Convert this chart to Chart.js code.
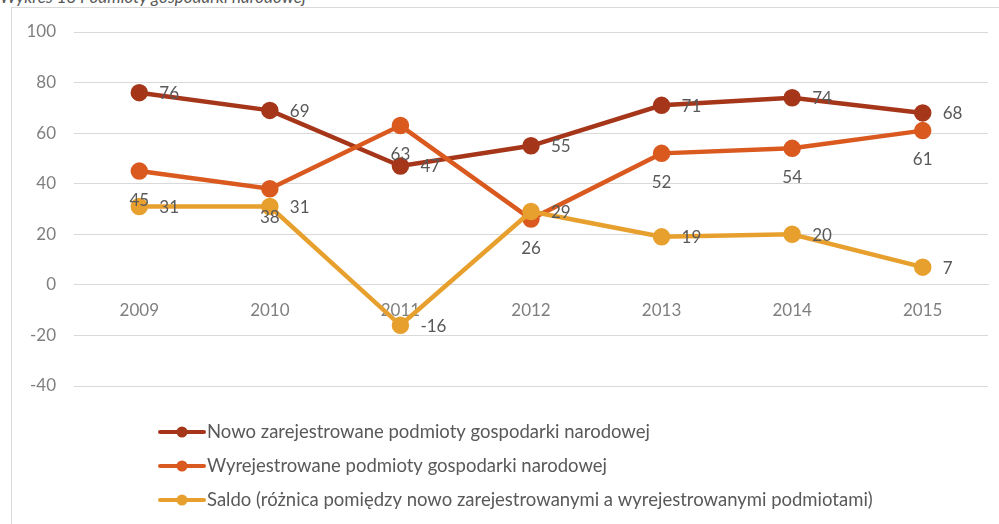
<!DOCTYPE html>
<html lang="pl">
<head>
<meta charset="utf-8">
<script src="https://cdn.jsdelivr.net/npm/chart.js@4/dist/chart.umd.min.js"></script>
<style>
  html, body { margin: 0; padding: 0; background: #fff; }
  body { width: 999px; height: 524px; position: relative; overflow: hidden; font-family: Lato, "Open Sans", sans-serif; }
  .title { position: absolute; left: 0; top: -14px; font-style: italic; font-size: 17px; color: #595959; white-space: nowrap; }
  .frame { position: absolute; left: 11px; top: 7px; width: 1000px; height: 530px; border: 1px solid #d9d9d9; }
  canvas { position: absolute; left: 0; top: 0; }
</style>
</head>
<body>
<div class="title">Wykres 18 Podmioty gospodarki narodowej</div>
<div class="frame"></div>
<canvas id="chart" width="999" height="524"></canvas>
<script>
  // Data
  const years = ["2009", "2010", "2011", "2012", "2013", "2014", "2015"];
  const registered = [76, 69, 47, 55, 71, 74, 68];
  const deregistered = [45, 38, 63, 26, 52, 54, 61];
  const balance = [31, 31, -16, 29, 19, 20, 7];
  const seriesNames = [
    "Nowo zarejestrowane podmioty gospodarki narodowej",
    "Wyrejestrowane podmioty gospodarki narodowej",
    "Saldo (różnica pomiędzy nowo zarejestrowanymi a wyrejestrowanymi podmiotami)"
  ];
  const colors = ["#a5361a", "#d9591f", "#e7a02e"];
  const labelPlacement = ["right", "below", "right"];

  const FONT = "Lato, 'Open Sans', sans-serif";

  // Excel-like data labels
  const valueLabels = {
    id: "valueLabels",
    afterDatasetsDraw(chart) {
      const ctx = chart.ctx;
      ctx.save();
      ctx.font = "17px " + FONT;
      ctx.fillStyle = "#595959";
      ctx.textBaseline = "middle";
      chart.data.datasets.forEach((ds, i) => {
        const meta = chart.getDatasetMeta(i);
        meta.data.forEach((pt, j) => {
          const txt = String(ds.data[j]);
          if (labelPlacement[i] === "right") {
            ctx.textAlign = "left";
            ctx.fillText(txt, pt.x + 20, pt.y + 1);
          } else {
            ctx.textAlign = "center";
            ctx.fillText(txt, pt.x, pt.y + 29);
          }
        });
      });
      ctx.restore();
    }
  };

  // Vertical legend under the plot
  const stackedLegend = {
    id: "stackedLegend",
    afterDraw(chart) {
      const ctx = chart.ctx;
      const left = 160;
      const top = 432;
      const rowGap = 34;
      ctx.save();
      ctx.font = "18.5px " + FONT;
      ctx.textBaseline = "middle";
      ctx.textAlign = "left";
      chart.data.datasets.forEach((ds, i) => {
        const y = top + i * rowGap;
        ctx.strokeStyle = ds.borderColor;
        ctx.lineWidth = 4;
        ctx.lineCap = "round";
        ctx.beginPath();
        ctx.moveTo(left, y);
        ctx.lineTo(left + 44, y);
        ctx.stroke();
        ctx.fillStyle = ds.borderColor;
        ctx.beginPath();
        ctx.arc(left + 22, y, 5.5, 0, Math.PI * 2);
        ctx.fill();
        ctx.fillStyle = "#595959";
        ctx.fillText(ds.label, left + 47, y);
      });
      ctx.restore();
    }
  };

  const makeSet = (i, data, order) => ({
    label: seriesNames[i],
    data,
    borderColor: colors[i],
    backgroundColor: colors[i],
    pointBackgroundColor: colors[i],
    pointBorderColor: colors[i],
    borderWidth: 4.5,
    pointRadius: 6.5,
    pointHoverRadius: 6.5,
    tension: 0,
    order
  });

  new Chart(document.getElementById("chart"), {
    type: "line",
    data: {
      labels: years,
      datasets: [
        makeSet(0, registered, 3),
        makeSet(1, deregistered, 2),
        makeSet(2, balance, 1)
      ]
    },
    options: {
      responsive: false,
      animation: false,
      layout: { padding: { left: 0, right: 10, top: 32, bottom: 138 } },
      scales: {
        x: {
          position: { y: 0 },
          offset: true,
          grid: { display: false, drawTicks: false },
          border: { display: true, color: "#d9d9d9", width: 1 },
          ticks: { color: "#7f7f7f", font: { family: FONT, size: 17 }, padding: 15 }
        },
        y: {
          min: -40,
          max: 100,
          afterFit: (s) => { s.width = 74; },
          grid: { color: "#d9d9d9", lineWidth: 1, drawTicks: false },
          border: { display: false },
          ticks: { stepSize: 20, color: "#7f7f7f", font: { family: FONT, size: 17 }, padding: 18 }
        }
      },
      plugins: {
        legend: { display: false },
        tooltip: { enabled: false }
      }
    },
    plugins: [valueLabels, stackedLegend]
  });
</script>
</body>
</html>
